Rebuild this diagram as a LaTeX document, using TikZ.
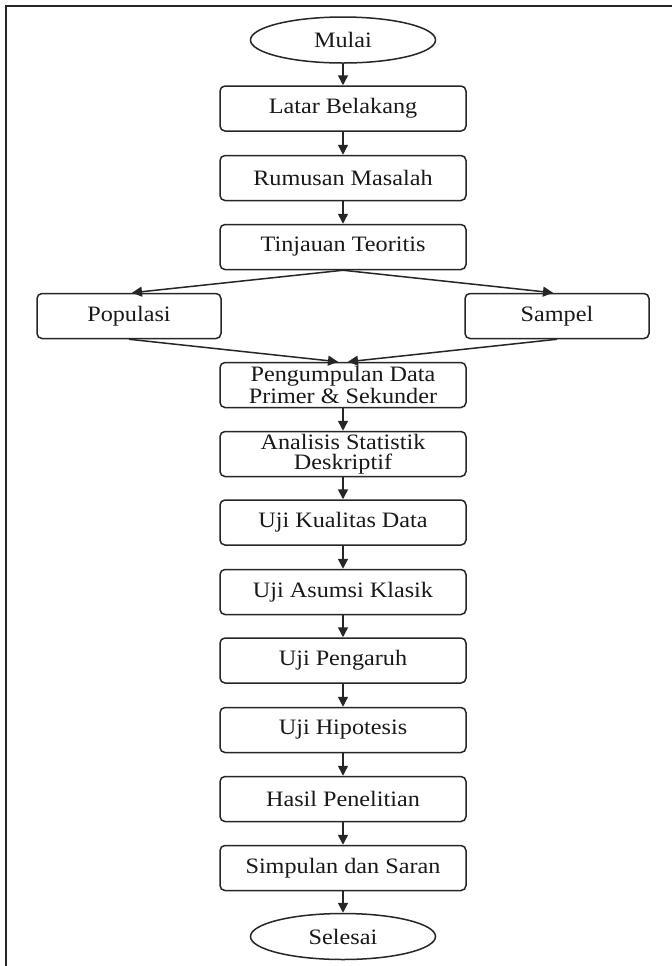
\documentclass[tikz,border=0pt]{standalone}
\usepackage{fontspec}
\setmainfont{Liberation Serif}[FakeStretch=1.1]
\usetikzlibrary{arrows.meta,shapes.geometric,calc}
\tikzset{
  flowbox/.style={draw=black!85, line width=0.75pt, rounded corners=2.5pt, minimum width=123pt, minimum height=22.5pt, inner sep=0pt, align=center, font=\fontsize{11}{9.8}\selectfont, text=black!90},
  sidebox/.style={flowbox, minimum width=92pt},
  terminal/.style={draw=black!85, line width=0.75pt, ellipse, minimum width=92.5pt, minimum height=23pt, inner sep=0pt, font=\fontsize{11}{9.8}\selectfont, text=black!90},
  conn/.style={draw=black!85, line width=0.75pt, -{Triangle[length=5pt,width=5pt]}},
}
\begin{document}
\begin{tikzpicture}[x=0.5pt,y=-0.5pt]
\useasboundingbox (0,0) rectangle (672,966);
\fill[white] (0,0) rectangle (672,966);
\draw[line width=1pt, black!85] (672,5.5) -- (6,5.5) -- (6,966);
\node[terminal] (mulai) at (343,40) {Mulai};
\node[flowbox] (latar) at (343,108.5) {Latar Belakang};
\node[flowbox] (rumusan) at (343,178) {Rumusan Masalah};
\node[flowbox] (tinjauan) at (343,247) {Tinjauan Teoritis};
\node[sidebox] (populasi) at (129,316) {Populasi};
\node[sidebox] (sampel) at (557,316) {Sampel};
\node[flowbox] (pengumpulan) at (343,385) {Pengumpulan Data\\Primer \& Sekunder};
\node[flowbox] (analisis) at (343,454) {Analisis Statistik\\Deskriptif};
\node[flowbox] (kualitas) at (343,522.5) {Uji Kualitas Data};
\node[flowbox] (asumsi) at (343,592) {Uji Asumsi Klasik};
\node[flowbox] (pengaruh) at (343,660.5) {Uji Pengaruh};
\node[flowbox] (hipotesis) at (343,730) {Uji Hipotesis};
\node[flowbox] (hasil) at (343,799) {Hasil Penelitian};
\node[flowbox] (simpulan) at (343,868) {Simpulan dan Saran};
\node[terminal] (selesai) at (343,936.5) {Selesai};
\draw[conn] (mulai) -- (latar);
\draw[conn] (latar) -- (rumusan);
\draw[conn] (rumusan) -- (tinjauan);
\draw[conn] (tinjauan.south) -- ($(populasi.north)+(3,0)$);
\draw[conn] (tinjauan.south) -- ($(sampel.north)+(-4,0)$);
\draw[conn] (populasi.south) -- ($(pengumpulan.north)+(-5,0)$);
\draw[conn] (sampel.south) -- ($(pengumpulan.north)+(5,0)$);
\draw[conn] (pengumpulan) -- (analisis);
\draw[conn] (analisis) -- (kualitas);
\draw[conn] (kualitas) -- (asumsi);
\draw[conn] (asumsi) -- (pengaruh);
\draw[conn] (pengaruh) -- (hipotesis);
\draw[conn] (hipotesis) -- (hasil);
\draw[conn] (hasil) -- (simpulan);
\draw[conn] (simpulan) -- (selesai);
\end{tikzpicture}
\end{document}
